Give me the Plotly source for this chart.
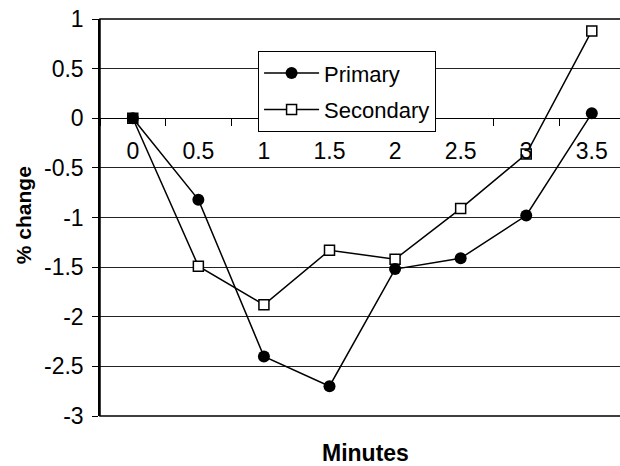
import plotly.graph_objects as go

minutes = ["0", "0.5", "1", "1.5", "2", "2.5", "3", "3.5"]
primary = [0, -0.82, -2.40, -2.70, -1.52, -1.41, -0.98, 0.05]
secondary = [0, -1.49, -1.88, -1.33, -1.42, -0.91, -0.36, 0.88]
y_ticks = [1, 0.5, 0, -0.5, -1, -1.5, -2, -2.5, -3]
y_tick_text = ["1", "0.5", "0", "-0.5", "-1", "-1.5", "-2", "-2.5", "-3"]

FONT = "Arial, Liberation Sans, sans-serif"

fig = go.Figure()
fig.add_trace(go.Scatter(
    x=minutes, y=secondary, name="Secondary", mode="lines+markers",
    line=dict(color="black", width=1.5),
    marker=dict(symbol="square", size=10, color="white",
                line=dict(color="black", width=1.5)),
    legendgroup="s", legendrank=2,
))
fig.add_trace(go.Scatter(
    x=minutes, y=primary, name="Primary", mode="lines+markers",
    line=dict(color="black", width=1.5),
    marker=dict(symbol="circle", size=12, color="black"),
    legendgroup="p", legendrank=1,
))

fig.update_layout(
    width=620, height=466,
    margin=dict(l=100, r=0, t=19, b=50),
    paper_bgcolor="white", plot_bgcolor="white",
    font=dict(family=FONT, size=22, color="black"),
    showlegend=True,
    legend=dict(
        x=0.304, y=0.919, xanchor="left", yanchor="top",
        bgcolor="white", bordercolor="black", borderwidth=1,
        font=dict(family=FONT, size=22, color="black"),
        itemwidth=55, tracegroupgap=5, traceorder="grouped",
    ),
    xaxis=dict(
        type="category", categoryorder="array", categoryarray=minutes,
        range=[-0.5, 7.43],
        anchor="free", position=0.75,
        showline=True, linecolor="black", linewidth=1,
        ticks="outside", ticklen=7, tickcolor="black", tickwidth=1,
        tickson="boundaries", showgrid=False, zeroline=False,
        ticklabelstandoff=12,
        tickfont=dict(family=FONT, size=23, color="black"),
    ),
    yaxis=dict(
        range=[-3, 1], tickvals=y_ticks, ticktext=y_tick_text,
        showline=True, linecolor="black", linewidth=1.5,
        ticks="outside", ticklen=6, tickcolor="black",
        showgrid=True, gridcolor="#222", gridwidth=1, zeroline=False,
        ticklabelstandoff=4,
        tickfont=dict(family=FONT, size=23, color="black"),
    ),
    shapes=[dict(type="rect", xref="paper", yref="paper",
                 x0=0, x1=1.05, y0=0, y1=1,
                 line=dict(color="black", width=1.5), layer="above")],
    annotations=[
        dict(text="<b>Minutes</b>", xref="paper", yref="paper",
             x=0.51, y=-0.093, xanchor="center", yanchor="middle",
             showarrow=False,
             font=dict(family=FONT, size=23, color="black")),
        dict(text="<b>% change</b>", xref="paper", yref="paper",
             x=-0.148, y=0.506, xanchor="center", yanchor="middle",
             showarrow=False, textangle=-90,
             font=dict(family=FONT, size=21, color="black")),
    ],
)

fig.write_html("out.html")
